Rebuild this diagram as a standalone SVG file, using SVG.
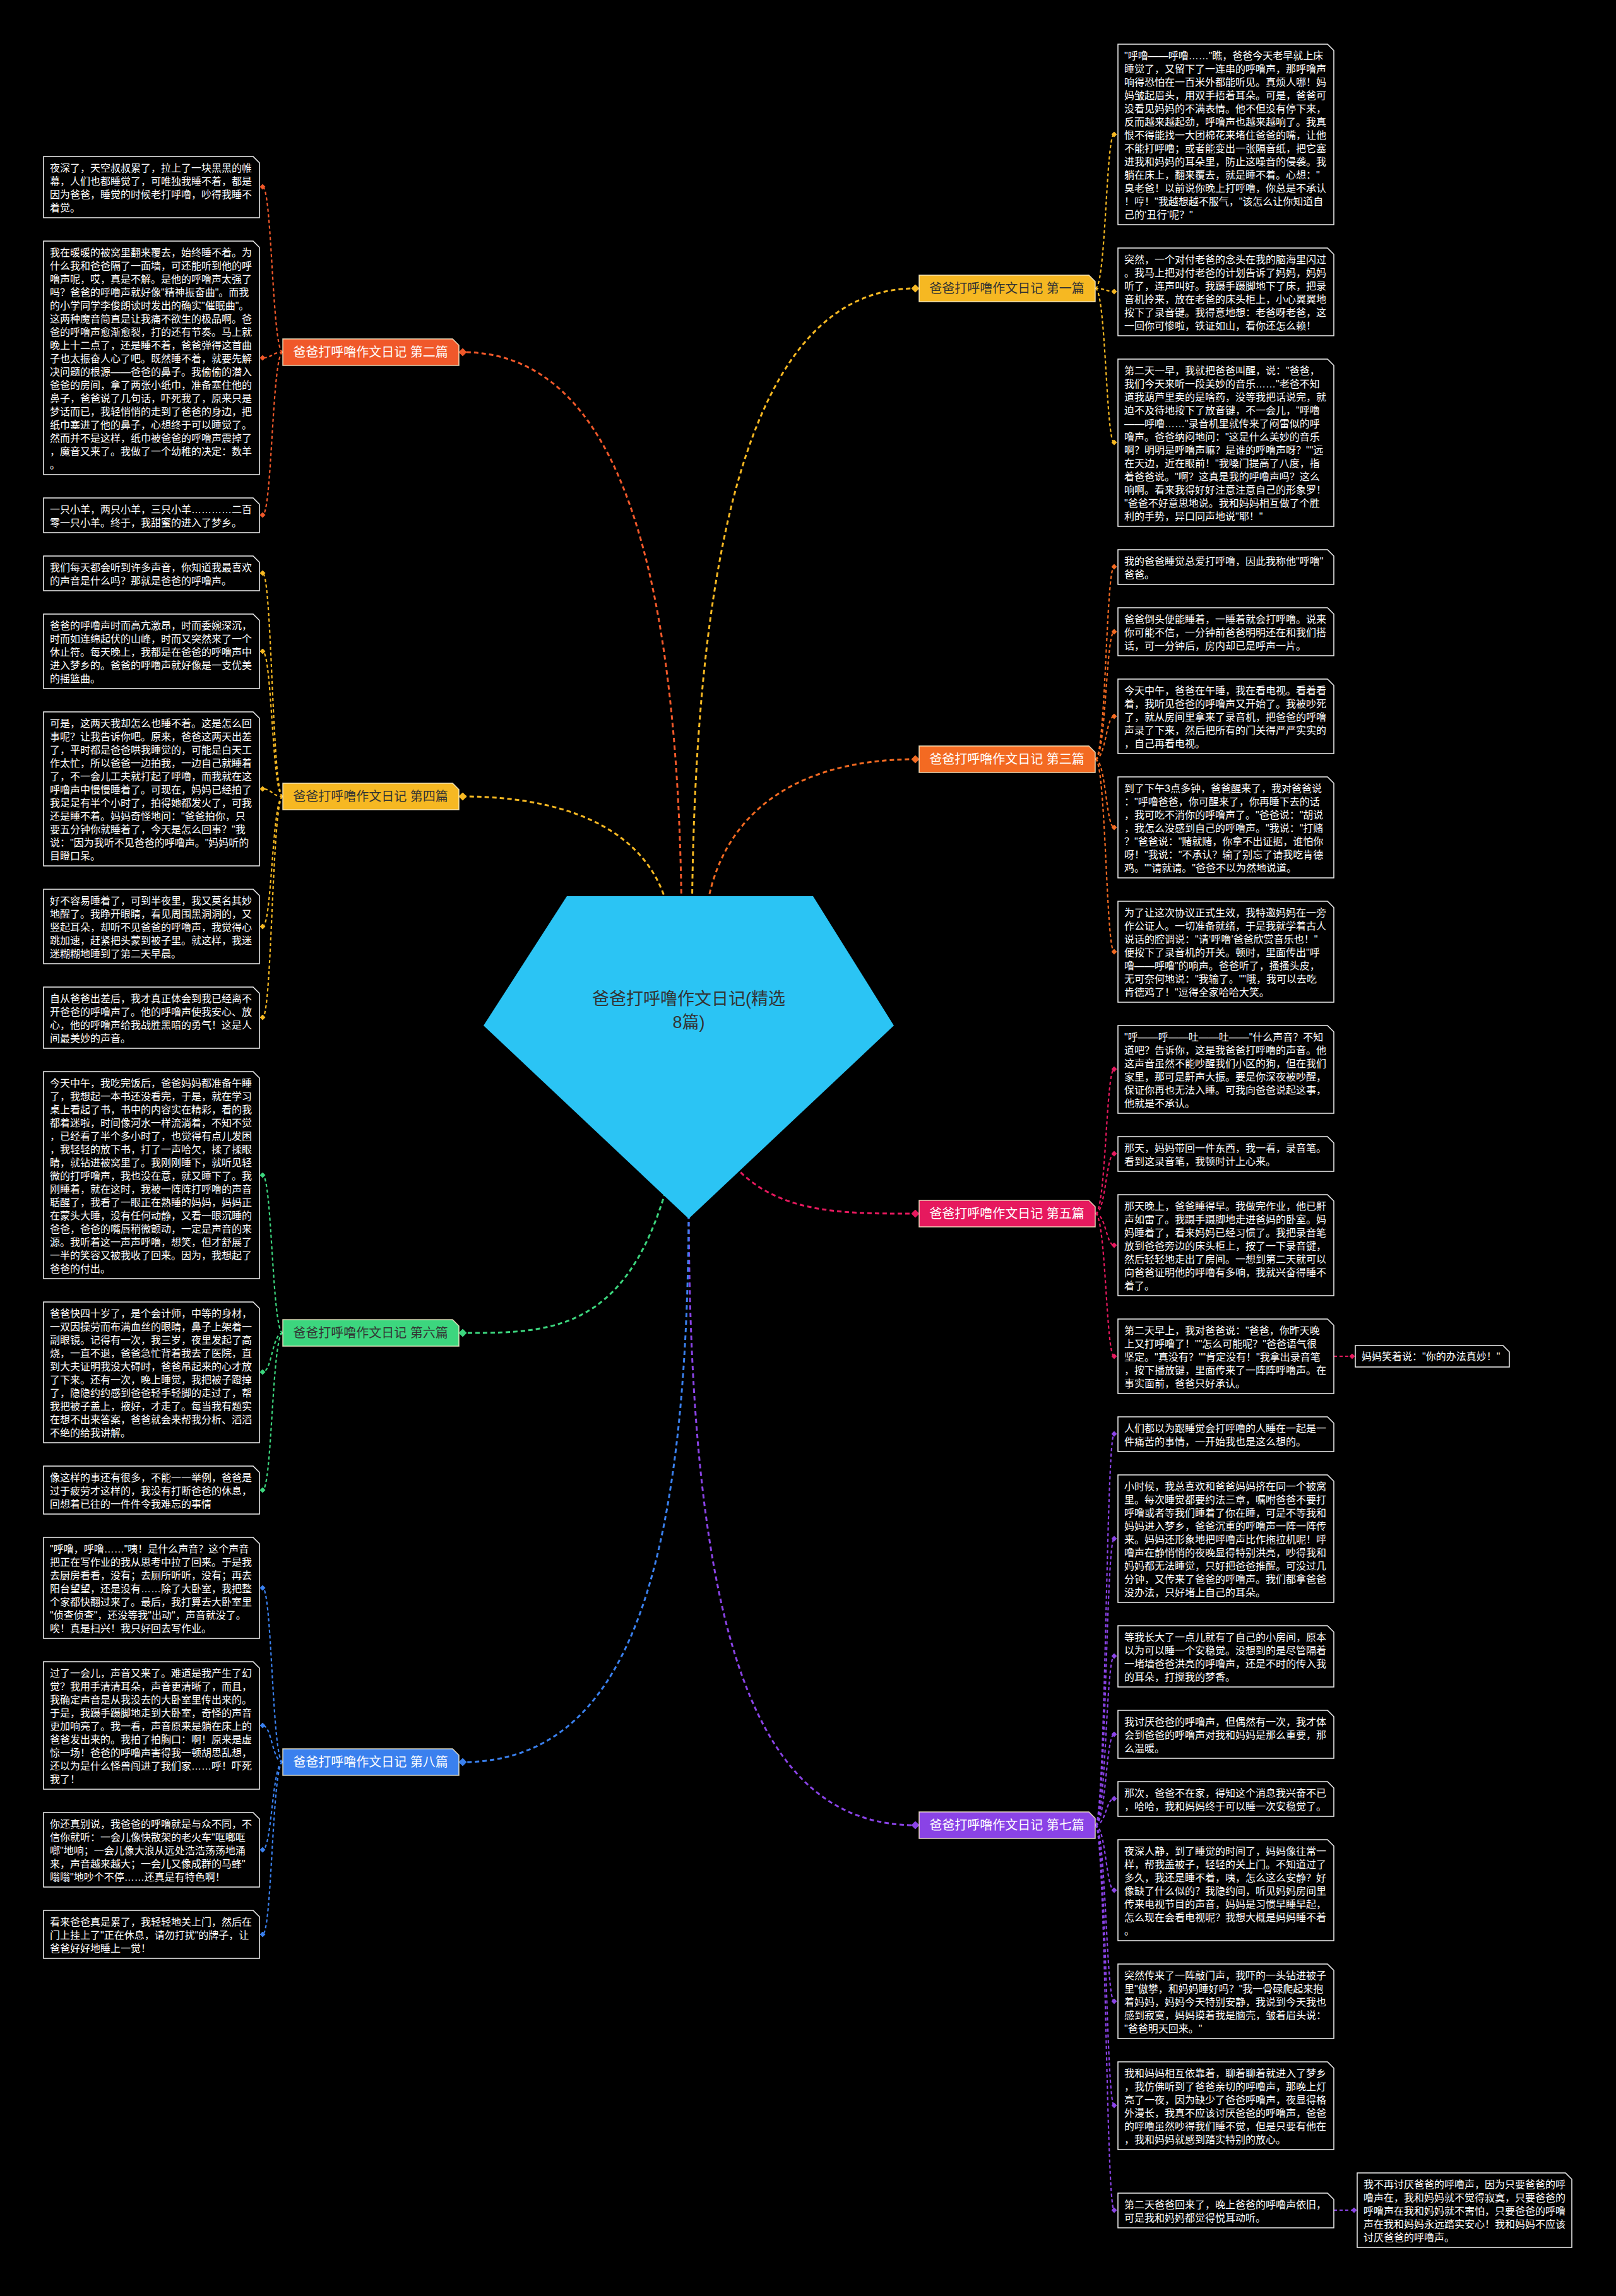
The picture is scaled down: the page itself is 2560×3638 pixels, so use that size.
<svg xmlns="http://www.w3.org/2000/svg" width="2560" height="3638" viewBox="0 0 2560 3638">
<defs>
<style>
.box{fill:#000;stroke:#f2f2f2;stroke-width:1.5}
.t{font-family:"Liberation Sans","Noto Sans CJK SC",sans-serif;font-size:16px;fill:#fff}
.lbl{stroke:#fff3cf;stroke-width:1.5;stroke-opacity:0.85}
.lt{font-family:"Liberation Sans","Noto Sans CJK SC",sans-serif;font-size:20px;text-anchor:middle}
.main{fill:none;stroke-width:3;stroke-dasharray:7 5}
.sub{fill:none;stroke-width:2.2;stroke-dasharray:5 4}
</style>
<marker id="dy" viewBox="0 0 10 10" refX="5" refY="5" markerWidth="13" markerHeight="13" markerUnits="userSpaceOnUse" orient="auto"><path d="M0,5L5,0L10,5L5,10Z" fill="#F6B822"/></marker>
<marker id="sy" viewBox="0 0 10 10" refX="5" refY="5" markerWidth="9" markerHeight="9" markerUnits="userSpaceOnUse" orient="auto"><path d="M0,5L5,0L10,5L5,10Z" fill="#F6B822"/></marker>
<marker id="dr" viewBox="0 0 10 10" refX="5" refY="5" markerWidth="13" markerHeight="13" markerUnits="userSpaceOnUse" orient="auto"><path d="M0,5L5,0L10,5L5,10Z" fill="#F0582A"/></marker>
<marker id="sr" viewBox="0 0 10 10" refX="5" refY="5" markerWidth="9" markerHeight="9" markerUnits="userSpaceOnUse" orient="auto"><path d="M0,5L5,0L10,5L5,10Z" fill="#F0582A"/></marker>
<marker id="do" viewBox="0 0 10 10" refX="5" refY="5" markerWidth="13" markerHeight="13" markerUnits="userSpaceOnUse" orient="auto"><path d="M0,5L5,0L10,5L5,10Z" fill="#F36A22"/></marker>
<marker id="so" viewBox="0 0 10 10" refX="5" refY="5" markerWidth="9" markerHeight="9" markerUnits="userSpaceOnUse" orient="auto"><path d="M0,5L5,0L10,5L5,10Z" fill="#F36A22"/></marker>
<marker id="dp" viewBox="0 0 10 10" refX="5" refY="5" markerWidth="13" markerHeight="13" markerUnits="userSpaceOnUse" orient="auto"><path d="M0,5L5,0L10,5L5,10Z" fill="#E6195E"/></marker>
<marker id="sp" viewBox="0 0 10 10" refX="5" refY="5" markerWidth="9" markerHeight="9" markerUnits="userSpaceOnUse" orient="auto"><path d="M0,5L5,0L10,5L5,10Z" fill="#E6195E"/></marker>
<marker id="dg" viewBox="0 0 10 10" refX="5" refY="5" markerWidth="13" markerHeight="13" markerUnits="userSpaceOnUse" orient="auto"><path d="M0,5L5,0L10,5L5,10Z" fill="#3CD67E"/></marker>
<marker id="sg" viewBox="0 0 10 10" refX="5" refY="5" markerWidth="9" markerHeight="9" markerUnits="userSpaceOnUse" orient="auto"><path d="M0,5L5,0L10,5L5,10Z" fill="#3CD67E"/></marker>
<marker id="dv" viewBox="0 0 10 10" refX="5" refY="5" markerWidth="13" markerHeight="13" markerUnits="userSpaceOnUse" orient="auto"><path d="M0,5L5,0L10,5L5,10Z" fill="#8A43E6"/></marker>
<marker id="sv" viewBox="0 0 10 10" refX="5" refY="5" markerWidth="9" markerHeight="9" markerUnits="userSpaceOnUse" orient="auto"><path d="M0,5L5,0L10,5L5,10Z" fill="#8A43E6"/></marker>
<marker id="db" viewBox="0 0 10 10" refX="5" refY="5" markerWidth="13" markerHeight="13" markerUnits="userSpaceOnUse" orient="auto"><path d="M0,5L5,0L10,5L5,10Z" fill="#3A80EE"/></marker>
<marker id="sb" viewBox="0 0 10 10" refX="5" refY="5" markerWidth="9" markerHeight="9" markerUnits="userSpaceOnUse" orient="auto"><path d="M0,5L5,0L10,5L5,10Z" fill="#3A80EE"/></marker>
</defs>
<rect width="2560" height="3638" fill="#000"/>

<g id="connectors">
<path class="main" stroke="#F6B822" marker-end="url(#dy)" d="M1096,1500 C1096,900 1180,457 1450,457"/>
<path class="main" stroke="#F0582A" marker-end="url(#dr)" d="M1080,1500 C1080,900 980,558 733,558"/>
<path class="main" stroke="#F36A22" marker-end="url(#do)" d="M1115,1500 C1115,1300 1250,1203 1450,1203"/>
<path class="main" stroke="#F6B822" marker-end="url(#dy)" d="M1065,1500 C1065,1330 920,1262 733,1262"/>
<path class="main" stroke="#E6195E" marker-end="url(#dp)" d="M1091,1700 C1150,1923 1280,1923 1450,1923"/>
<path class="main" stroke="#3CD67E" marker-end="url(#dg)" d="M1091,1700 C1040,2112 900,2112 733,2112"/>
<path class="main" stroke="#8A43E6" marker-end="url(#dv)" d="M1091,1900 C1091,2600 1200,2892 1450,2892"/>
<path class="main" stroke="#3A80EE" marker-end="url(#db)" d="M1091,1900 C1091,2500 990,2792 733,2792"/>

<g stroke="#F6B822" marker-end="url(#sy)" class="sub">
<path d="M1735,457 C1752,457 1752,213 1765,213"/>
<path d="M1735,457 C1752,457 1752,462 1765,462"/>
<path d="M1735,457 C1752,457 1752,701 1765,701"/>
</g>
<g stroke="#F0582A" marker-end="url(#sr)" class="sub">
<path d="M448,558 C431,558 431,296 416,296"/>
<path d="M448,558 C431,558 431,567 416,567"/>
<path d="M448,558 C431,558 431,816 416,816"/>
</g>
<g stroke="#F36A22" marker-end="url(#so)" class="sub">
<path d="M1735,1203 C1752,1203 1752,898 1765,898"/>
<path d="M1735,1203 C1752,1203 1752,1001 1765,1001"/>
<path d="M1735,1203 C1752,1203 1752,1135 1765,1135"/>
<path d="M1735,1203 C1752,1203 1752,1311 1765,1311"/>
<path d="M1735,1203 C1752,1203 1752,1508 1765,1508"/>
</g>
<g stroke="#F6B822" marker-end="url(#sy)" class="sub">
<path d="M448,1262 C431,1262 431,908 416,908"/>
<path d="M448,1262 C431,1262 431,1032 416,1032"/>
<path d="M448,1262 C431,1262 431,1250 416,1250"/>
<path d="M448,1262 C431,1262 431,1468 416,1468"/>
<path d="M448,1262 C431,1262 431,1612 416,1612"/>
</g>
<g stroke="#E6195E" marker-end="url(#sp)" class="sub">
<path d="M1735,1923 C1752,1923 1752,1694 1765,1694"/>
<path d="M1735,1923 C1752,1923 1752,1828 1765,1828"/>
<path d="M1735,1923 C1752,1923 1752,1973 1765,1973"/>
<path d="M1735,1923 C1752,1923 1752,2149 1765,2149"/>
<path d="M2113,2149 L2142,2149"/>
</g>
<g stroke="#3CD67E" marker-end="url(#sg)" class="sub">
<path d="M448,2112 C431,2112 431,1862 416,1862"/>
<path d="M448,2112 C431,2112 431,2174 416,2174"/>
<path d="M448,2112 C431,2112 431,2361 416,2361"/>
</g>
<g stroke="#8A43E6" marker-end="url(#sv)" class="sub">
<path d="M1735,2892 C1752,2892 1752,2272 1765,2272"/>
<path d="M1735,2892 C1752,2892 1752,2438 1765,2438"/>
<path d="M1735,2892 C1752,2892 1752,2624 1765,2624"/>
<path d="M1735,2892 C1752,2892 1752,2748 1765,2748"/>
<path d="M1735,2892 C1752,2892 1752,2850 1765,2850"/>
<path d="M1735,2892 C1752,2892 1752,2995 1765,2995"/>
<path d="M1735,2892 C1752,2892 1752,3171 1765,3171"/>
<path d="M1735,2892 C1752,2892 1752,3336 1765,3336"/>
<path d="M1735,2892 C1752,2892 1752,3502 1765,3502"/>
<path d="M2113,3502 L2145,3502"/>
</g>
<g stroke="#3A80EE" marker-end="url(#sb)" class="sub">
<path d="M448,2792 C431,2792 431,2516 416,2516"/>
<path d="M448,2792 C431,2792 431,2734 416,2734"/>
<path d="M448,2792 C431,2792 431,2931 416,2931"/>
<path d="M448,2792 C431,2792 431,3065 416,3065"/>
</g>
</g>

<g id="root">
<path d="M898,1420 L1288,1420 L1416,1625 L1091,1931 L766,1625 Z" fill="#2BC4F4"/>
<text x="1091" y="1592" font-family="Liberation Sans, Noto Sans CJK SC, sans-serif" font-size="27" fill="#333" text-anchor="middle">爸爸打呼噜作文日记(精选</text>
<text x="1091" y="1629" font-family="Liberation Sans, Noto Sans CJK SC, sans-serif" font-size="27" fill="#333" text-anchor="middle">8篇)</text>
</g>

<g id="label1"><path class="lbl" fill="#F6B822" d="M1456,436 H1725 L1735,446 V478 H1456 Z"/><text class="lt" x="1595" y="464" fill="#333">爸爸打呼噜作文日记 第一篇</text></g>
<g id="label2"><path class="lbl" fill="#F0582A" d="M448,537 H717 L727,547 V579 H448 Z"/><text class="lt" x="587" y="565" fill="#fff">爸爸打呼噜作文日记 第二篇</text></g>
<g id="label3"><path class="lbl" fill="#F36A22" d="M1456,1182 H1725 L1735,1192 V1224 H1456 Z"/><text class="lt" x="1595" y="1210" fill="#fff">爸爸打呼噜作文日记 第三篇</text></g>
<g id="label4"><path class="lbl" fill="#F6B822" d="M448,1241 H717 L727,1251 V1283 H448 Z"/><text class="lt" x="587" y="1269" fill="#333">爸爸打呼噜作文日记 第四篇</text></g>
<g id="label5"><path class="lbl" fill="#E6195E" d="M1456,1902 H1725 L1735,1912 V1944 H1456 Z"/><text class="lt" x="1595" y="1930" fill="#fff">爸爸打呼噜作文日记 第五篇</text></g>
<g id="label6"><path class="lbl" fill="#3CD67E" d="M448,2091 H717 L727,2101 V2133 H448 Z"/><text class="lt" x="587" y="2119" fill="#333">爸爸打呼噜作文日记 第六篇</text></g>
<g id="label7"><path class="lbl" fill="#8A43E6" d="M1456,2871 H1725 L1735,2881 V2913 H1456 Z"/><text class="lt" x="1595" y="2899" fill="#fff">爸爸打呼噜作文日记 第七篇</text></g>
<g id="label8"><path class="lbl" fill="#3A80EE" d="M448,2771 H717 L727,2781 V2813 H448 Z"/><text class="lt" x="587" y="2799" fill="#fff">爸爸打呼噜作文日记 第八篇</text></g>

<g id="L1"><path class="box" d="M69,248 H401 L411,258 V345 H69 Z"/><text class="t" x="79" y="272"><tspan x="79">夜深了，天空叔叔累了，拉上了一块黑黑的帷</tspan><tspan x="79" dy="21">幕，人们也都睡觉了，可唯独我睡不着，都是</tspan><tspan x="79" dy="21">因为爸爸，睡觉的时候老打呼噜，吵得我睡不</tspan><tspan x="79" dy="21">着觉。</tspan></text></g>
<g id="L2"><path class="box" d="M69,382 H401 L411,392 V752 H69 Z"/><text class="t" x="79" y="406"><tspan x="79">我在暖暖的被窝里翻来覆去，始终睡不着。为</tspan><tspan x="79" dy="21">什么我和爸爸隔了一面墙，可还能听到他的呼</tspan><tspan x="79" dy="21">噜声呢，哎，真是不解。是他的呼噜声太强了</tspan><tspan x="79" dy="21">吗？爸爸的呼噜声就好像"精神振奋曲"。而我</tspan><tspan x="79" dy="21">的小学同学李俊朗读时发出的确实"催眠曲"。</tspan><tspan x="79" dy="21">这两种魔音简直是让我痛不欲生的极品啊。爸</tspan><tspan x="79" dy="21">爸的呼噜声愈渐愈裂，打的还有节奏。马上就</tspan><tspan x="79" dy="21">晚上十二点了，还是睡不着，爸爸弹得这首曲</tspan><tspan x="79" dy="21">子也太振奋人心了吧。既然睡不着，就要先解</tspan><tspan x="79" dy="21">决问题的根源——爸爸的鼻子。我偷偷的潜入</tspan><tspan x="79" dy="21">爸爸的房间，拿了两张小纸巾，准备塞住他的</tspan><tspan x="79" dy="21">鼻子，爸爸说了几句话，吓死我了，原来只是</tspan><tspan x="79" dy="21">梦话而已，我轻悄悄的走到了爸爸的身边，把</tspan><tspan x="79" dy="21">纸巾塞进了他的鼻子，心想终于可以睡觉了。</tspan><tspan x="79" dy="21">然而并不是这样，纸巾被爸爸的呼噜声震掉了</tspan><tspan x="79" dy="21">，魔音又来了。我做了一个幼稚的决定：数羊</tspan><tspan x="79" dy="21">。</tspan></text></g>
<g id="L3"><path class="box" d="M69,789 H401 L411,799 V844 H69 Z"/><text class="t" x="79" y="813"><tspan x="79">一只小羊，两只小羊，三只小羊…………二百</tspan><tspan x="79" dy="21">零一只小羊。终于，我甜蜜的进入了梦乡。</tspan></text></g>
<g id="L4"><path class="box" d="M69,881 H401 L411,891 V936 H69 Z"/><text class="t" x="79" y="905"><tspan x="79">我们每天都会听到许多声音，你知道我最喜欢</tspan><tspan x="79" dy="21">的声音是什么吗？那就是爸爸的呼噜声。</tspan></text></g>
<g id="L5"><path class="box" d="M69,973 H401 L411,983 V1091 H69 Z"/><text class="t" x="79" y="997"><tspan x="79">爸爸的呼噜声时而高亢激昂，时而委婉深沉，</tspan><tspan x="79" dy="21">时而如连绵起伏的山峰，时而又突然来了一个</tspan><tspan x="79" dy="21">休止符。每天晚上，我都是在爸爸的呼噜声中</tspan><tspan x="79" dy="21">进入梦乡的。爸爸的呼噜声就好像是一支优美</tspan><tspan x="79" dy="21">的摇篮曲。</tspan></text></g>
<g id="L6"><path class="box" d="M69,1128 H401 L411,1138 V1372 H69 Z"/><text class="t" x="79" y="1152"><tspan x="79">可是，这两天我却怎么也睡不着。这是怎么回</tspan><tspan x="79" dy="21">事呢？让我告诉你吧。原来，爸爸这两天出差</tspan><tspan x="79" dy="21">了，平时都是爸爸哄我睡觉的，可能是白天工</tspan><tspan x="79" dy="21">作太忙，所以爸爸一边拍我，一边自己就睡着</tspan><tspan x="79" dy="21">了，不一会儿工夫就打起了呼噜，而我就在这</tspan><tspan x="79" dy="21">呼噜声中慢慢睡着了。可现在，妈妈已经拍了</tspan><tspan x="79" dy="21">我足足有半个小时了，拍得她都发火了，可我</tspan><tspan x="79" dy="21">还是睡不着。妈妈奇怪地问："爸爸拍你，只</tspan><tspan x="79" dy="21">要五分钟你就睡着了，今天是怎么回事？"我</tspan><tspan x="79" dy="21">说："因为我听不见爸爸的呼噜声。"妈妈听的</tspan><tspan x="79" dy="21">目瞪口呆。</tspan></text></g>
<g id="L7"><path class="box" d="M69,1409 H401 L411,1419 V1527 H69 Z"/><text class="t" x="79" y="1433"><tspan x="79">好不容易睡着了，可到半夜里，我又莫名其妙</tspan><tspan x="79" dy="21">地醒了。我睁开眼睛，看见周围黑洞洞的，又</tspan><tspan x="79" dy="21">竖起耳朵，却听不见爸爸的呼噜声，我觉得心</tspan><tspan x="79" dy="21">跳加速，赶紧把头蒙到被子里。就这样，我迷</tspan><tspan x="79" dy="21">迷糊糊地睡到了第二天早晨。</tspan></text></g>
<g id="L8"><path class="box" d="M69,1564 H401 L411,1574 V1661 H69 Z"/><text class="t" x="79" y="1588"><tspan x="79">自从爸爸出差后，我才真正体会到我已经离不</tspan><tspan x="79" dy="21">开爸爸的呼噜声了。他的呼噜声使我安心、放</tspan><tspan x="79" dy="21">心，他的呼噜声给我战胜黑暗的勇气！这是人</tspan><tspan x="79" dy="21">间最美妙的声音。</tspan></text></g>
<g id="L9"><path class="box" d="M69,1698 H401 L411,1708 V2026 H69 Z"/><text class="t" x="79" y="1722"><tspan x="79">今天中午，我吃完饭后，爸爸妈妈都准备午睡</tspan><tspan x="79" dy="21">了，我想起一本书还没看完，于是，就在学习</tspan><tspan x="79" dy="21">桌上看起了书，书中的内容实在精彩，看的我</tspan><tspan x="79" dy="21">都着迷啦，时间像河水一样流淌着，不知不觉</tspan><tspan x="79" dy="21">，已经看了半个多小时了，也觉得有点儿发困</tspan><tspan x="79" dy="21">，我轻轻的放下书，打了一声哈欠，揉了揉眼</tspan><tspan x="79" dy="21">睛，就钻进被窝里了。我刚刚睡下，就听见轻</tspan><tspan x="79" dy="21">微的打呼噜声，我也没在意，就又睡下了。我</tspan><tspan x="79" dy="21">刚睡着，就在这时，我被一阵阵打呼噜的声音</tspan><tspan x="79" dy="21">聒醒了，我看了一眼正在熟睡的妈妈，妈妈正</tspan><tspan x="79" dy="21">在蒙头大睡，没有任何动静，又看一眼沉睡的</tspan><tspan x="79" dy="21">爸爸，爸爸的嘴唇稍微颤动，一定是声音的来</tspan><tspan x="79" dy="21">源。我听着这一声声呼噜，想笑，但才舒展了</tspan><tspan x="79" dy="21">一半的笑容又被我收了回来。因为，我想起了</tspan><tspan x="79" dy="21">爸爸的付出。</tspan></text></g>
<g id="L10"><path class="box" d="M69,2063 H401 L411,2073 V2286 H69 Z"/><text class="t" x="79" y="2087"><tspan x="79">爸爸快四十岁了，是个会计师，中等的身材，</tspan><tspan x="79" dy="21">一双因操劳而布满血丝的眼睛，鼻子上架着一</tspan><tspan x="79" dy="21">副眼镜。记得有一次，我三岁，夜里发起了高</tspan><tspan x="79" dy="21">烧，一直不退，爸爸急忙背着我去了医院，直</tspan><tspan x="79" dy="21">到大夫证明我没大碍时，爸爸吊起来的心才放</tspan><tspan x="79" dy="21">了下来。还有一次，晚上睡觉，我把被子蹬掉</tspan><tspan x="79" dy="21">了，隐隐约约感到爸爸轻手轻脚的走过了，帮</tspan><tspan x="79" dy="21">我把被子盖上，掖好，才走了。每当我有题实</tspan><tspan x="79" dy="21">在想不出来答案，爸爸就会来帮我分析、滔滔</tspan><tspan x="79" dy="21">不绝的给我讲解。</tspan></text></g>
<g id="L11"><path class="box" d="M69,2323 H401 L411,2333 V2399 H69 Z"/><text class="t" x="79" y="2347"><tspan x="79">像这样的事还有很多，不能一一举例，爸爸是</tspan><tspan x="79" dy="21">过于疲劳才这样的，我没有打断爸爸的休息，</tspan><tspan x="79" dy="21">回想着已往的一件件令我难忘的事情</tspan></text></g>
<g id="L12"><path class="box" d="M69,2436 H401 L411,2446 V2596 H69 Z"/><text class="t" x="79" y="2460"><tspan x="79">"呼噜，呼噜……"咦！是什么声音？这个声音</tspan><tspan x="79" dy="21">把正在写作业的我从思考中拉了回来。于是我</tspan><tspan x="79" dy="21">去厨房看看，没有；去厕所听听，没有；再去</tspan><tspan x="79" dy="21">阳台望望，还是没有……除了大卧室，我把整</tspan><tspan x="79" dy="21">个家都快翻过来了。最后，我打算去大卧室里</tspan><tspan x="79" dy="21">"侦查侦查"，还没等我"出动"，声音就没了。</tspan><tspan x="79" dy="21">唉！真是扫兴！我只好回去写作业。</tspan></text></g>
<g id="L13"><path class="box" d="M69,2633 H401 L411,2643 V2835 H69 Z"/><text class="t" x="79" y="2657"><tspan x="79">过了一会儿，声音又来了。难道是我产生了幻</tspan><tspan x="79" dy="21">觉？我用手清清耳朵，声音更清晰了，而且，</tspan><tspan x="79" dy="21">我确定声音是从我没去的大卧室里传出来的。</tspan><tspan x="79" dy="21">于是，我蹑手蹑脚地走到大卧室，奇怪的声音</tspan><tspan x="79" dy="21">更加响亮了。我一看，声音原来是躺在床上的</tspan><tspan x="79" dy="21">爸爸发出来的。我拍了拍胸口：啊！原来是虚</tspan><tspan x="79" dy="21">惊一场！爸爸的呼噜声害得我一顿胡思乱想，</tspan><tspan x="79" dy="21">还以为是什么怪兽闯进了我们家……呼！吓死</tspan><tspan x="79" dy="21">我了！</tspan></text></g>
<g id="L14"><path class="box" d="M69,2872 H401 L411,2882 V2990 H69 Z"/><text class="t" x="79" y="2896"><tspan x="79">你还真别说，我爸爸的呼噜就是与众不同，不</tspan><tspan x="79" dy="21">信你就听：一会儿像快散架的老火车"哐啷哐</tspan><tspan x="79" dy="21">啷"地响；一会儿像大浪从远处浩浩荡荡地涌</tspan><tspan x="79" dy="21">来，声音越来越大；一会儿又像成群的马蜂"</tspan><tspan x="79" dy="21">嗡嗡"地吵个不停……还真是有特色啊！</tspan></text></g>
<g id="L15"><path class="box" d="M69,3027 H401 L411,3037 V3103 H69 Z"/><text class="t" x="79" y="3051"><tspan x="79">看来爸爸真是累了，我轻轻地关上门，然后在</tspan><tspan x="79" dy="21">门上挂上了"正在休息，请勿打扰"的牌子，让</tspan><tspan x="79" dy="21">爸爸好好地睡上一觉！</tspan></text></g>

<g id="R1"><path class="box" d="M1771,70 H2103 L2113,80 V356 H1771 Z"/><text class="t" x="1781" y="94"><tspan x="1781">"呼噜——呼噜……"瞧，爸爸今天老早就上床</tspan><tspan x="1781" dy="21">睡觉了，又留下了一连串的呼噜声，那呼噜声</tspan><tspan x="1781" dy="21">响得恐怕在一百米外都能听见。真烦人哪！妈</tspan><tspan x="1781" dy="21">妈皱起眉头，用双手捂着耳朵。可是，爸爸可</tspan><tspan x="1781" dy="21">没看见妈妈的不满表情。他不但没有停下来，</tspan><tspan x="1781" dy="21">反而越来越起劲，呼噜声也越来越响了。我真</tspan><tspan x="1781" dy="21">恨不得能找一大团棉花来堵住爸爸的嘴，让他</tspan><tspan x="1781" dy="21">不能打呼噜；或者能变出一张隔音纸，把它塞</tspan><tspan x="1781" dy="21">进我和妈妈的耳朵里，防止这噪音的侵袭。我</tspan><tspan x="1781" dy="21">躺在床上，翻来覆去，就是睡不着。心想："</tspan><tspan x="1781" dy="21">臭老爸！以前说你晚上打呼噜，你总是不承认</tspan><tspan x="1781" dy="21">！哼！"我越想越不服气，"该怎么让你知道自</tspan><tspan x="1781" dy="21">己的‘丑行’呢？"</tspan></text></g>
<g id="R2"><path class="box" d="M1771,393 H2103 L2113,403 V532 H1771 Z"/><text class="t" x="1781" y="417"><tspan x="1781">突然，一个对付老爸的念头在我的脑海里闪过</tspan><tspan x="1781" dy="21">。我马上把对付老爸的计划告诉了妈妈，妈妈</tspan><tspan x="1781" dy="21">听了，连声叫好。我蹑手蹑脚地下了床，把录</tspan><tspan x="1781" dy="21">音机拎来，放在老爸的床头柜上，小心翼翼地</tspan><tspan x="1781" dy="21">按下了录音键。我得意地想：老爸呀老爸，这</tspan><tspan x="1781" dy="21">一回你可惨啦，铁证如山，看你还怎么赖！</tspan></text></g>
<g id="R3"><path class="box" d="M1771,569 H2103 L2113,579 V834 H1771 Z"/><text class="t" x="1781" y="593"><tspan x="1781">第二天一早，我就把爸爸叫醒，说："爸爸，</tspan><tspan x="1781" dy="21">我们今天来听一段美妙的音乐……"老爸不知</tspan><tspan x="1781" dy="21">道我葫芦里卖的是啥药，没等我把话说完，就</tspan><tspan x="1781" dy="21">迫不及待地按下了放音键，不一会儿，"呼噜</tspan><tspan x="1781" dy="21">——呼噜……"录音机里就传来了闷雷似的呼</tspan><tspan x="1781" dy="21">噜声。爸爸纳闷地问："这是什么美妙的音乐</tspan><tspan x="1781" dy="21">啊？明明是呼噜声嘛？是谁的呼噜声呀？""远</tspan><tspan x="1781" dy="21">在天边，近在眼前！"我嗓门提高了八度，指</tspan><tspan x="1781" dy="21">着爸爸说。"啊？这真是我的呼噜声吗？这么</tspan><tspan x="1781" dy="21">响啊。看来我得好好注意注意自己的形象罗！</tspan><tspan x="1781" dy="21">"爸爸不好意思地说。我和妈妈相互做了个胜</tspan><tspan x="1781" dy="21">利的手势，异口同声地说"耶！"</tspan></text></g>
<g id="R4"><path class="box" d="M1771,871 H2103 L2113,881 V926 H1771 Z"/><text class="t" x="1781" y="895"><tspan x="1781">我的爸爸睡觉总爱打呼噜，因此我称他"呼噜"</tspan><tspan x="1781" dy="21">爸爸。</tspan></text></g>
<g id="R5"><path class="box" d="M1771,963 H2103 L2113,973 V1039 H1771 Z"/><text class="t" x="1781" y="987"><tspan x="1781">爸爸倒头便能睡着，一睡着就会打呼噜。说来</tspan><tspan x="1781" dy="21">你可能不信，一分钟前爸爸明明还在和我们搭</tspan><tspan x="1781" dy="21">话，可一分钟后，房内却已是呼声一片。</tspan></text></g>
<g id="R6"><path class="box" d="M1771,1076 H2103 L2113,1086 V1194 H1771 Z"/><text class="t" x="1781" y="1100"><tspan x="1781">今天中午，爸爸在午睡，我在看电视。看着看</tspan><tspan x="1781" dy="21">着，我听见爸爸的呼噜声又开始了。我被吵死</tspan><tspan x="1781" dy="21">了，就从房间里拿来了录音机，把爸爸的呼噜</tspan><tspan x="1781" dy="21">声录了下来，然后把所有的门关得严严实实的</tspan><tspan x="1781" dy="21">，自己再看电视。</tspan></text></g>
<g id="R7"><path class="box" d="M1771,1231 H2103 L2113,1241 V1391 H1771 Z"/><text class="t" x="1781" y="1255"><tspan x="1781">到了下午3点多钟，爸爸醒来了，我对爸爸说</tspan><tspan x="1781" dy="21">："呼噜爸爸，你可醒来了，你再睡下去的话</tspan><tspan x="1781" dy="21">，我可吃不消你的呼噜声了。"爸爸说："胡说</tspan><tspan x="1781" dy="21">，我怎么没感到自己的呼噜声。"我说："打赌</tspan><tspan x="1781" dy="21">？"爸爸说："赌就赌，你拿不出证据，谁怕你</tspan><tspan x="1781" dy="21">呀！"我说："不承认？输了别忘了请我吃肯德</tspan><tspan x="1781" dy="21">鸡。""请就请。"爸爸不以为然地说道。</tspan></text></g>
<g id="R8"><path class="box" d="M1771,1428 H2103 L2113,1438 V1588 H1771 Z"/><text class="t" x="1781" y="1452"><tspan x="1781">为了让这次协议正式生效，我特邀妈妈在一旁</tspan><tspan x="1781" dy="21">作公证人。一切准备就绪，于是我就学着古人</tspan><tspan x="1781" dy="21">说话的腔调说："请‘呼噜’爸爸欣赏音乐也！"</tspan><tspan x="1781" dy="21">便按下了录音机的开关。顿时，里面传出"呼</tspan><tspan x="1781" dy="21">噜——呼噜"的响声。爸爸听了，搔搔头皮，</tspan><tspan x="1781" dy="21">无可奈何地说："我输了。""哦，我可以去吃</tspan><tspan x="1781" dy="21">肯德鸡了！"逗得全家哈哈大笑。</tspan></text></g>
<g id="R9"><path class="box" d="M1771,1625 H2103 L2113,1635 V1764 H1771 Z"/><text class="t" x="1781" y="1649"><tspan x="1781">"呼——呼——吐——吐——"什么声音？不知</tspan><tspan x="1781" dy="21">道吧？告诉你，这是我爸爸打呼噜的声音。他</tspan><tspan x="1781" dy="21">这声音虽然不能吵醒我们小区的狗，但在我们</tspan><tspan x="1781" dy="21">家里，那可是鼾声大振。要是你深夜被吵醒，</tspan><tspan x="1781" dy="21">保证你再也无法入睡。可我向爸爸说起这事，</tspan><tspan x="1781" dy="21">他就是不承认。</tspan></text></g>
<g id="R10"><path class="box" d="M1771,1801 H2103 L2113,1811 V1856 H1771 Z"/><text class="t" x="1781" y="1825"><tspan x="1781">那天，妈妈带回一件东西，我一看，录音笔。</tspan><tspan x="1781" dy="21">看到这录音笔，我顿时计上心来。</tspan></text></g>
<g id="R11"><path class="box" d="M1771,1893 H2103 L2113,1903 V2053 H1771 Z"/><text class="t" x="1781" y="1917"><tspan x="1781">那天晚上，爸爸睡得早。我做完作业，他已鼾</tspan><tspan x="1781" dy="21">声如雷了。我蹑手蹑脚地走进爸妈的卧室。妈</tspan><tspan x="1781" dy="21">妈睡着了，看来妈妈已经习惯了。我把录音笔</tspan><tspan x="1781" dy="21">放到爸爸旁边的床头柜上，按了一下录音键，</tspan><tspan x="1781" dy="21">然后轻轻地走出了房间。一想到第二天就可以</tspan><tspan x="1781" dy="21">向爸爸证明他的呼噜有多响，我就兴奋得睡不</tspan><tspan x="1781" dy="21">着了。</tspan></text></g>
<g id="R12"><path class="box" d="M1771,2090 H2103 L2113,2100 V2208 H1771 Z"/><text class="t" x="1781" y="2114"><tspan x="1781">第二天早上，我对爸爸说："爸爸，你昨天晚</tspan><tspan x="1781" dy="21">上又打呼噜了！""怎么可能呢？"爸爸语气很</tspan><tspan x="1781" dy="21">坚定。"真没有？""肯定没有！"我拿出录音笔</tspan><tspan x="1781" dy="21">，按下播放键，里面传来了一阵阵呼噜声。在</tspan><tspan x="1781" dy="21">事实面前，爸爸只好承认。</tspan></text></g>
<g id="S12"><path class="box" d="M2147,2132 H2381 L2391,2142 V2166 H2147 Z"/><text class="t" x="2157" y="2155">妈妈笑着说："你的办法真妙！"</text></g>
<g id="R13"><path class="box" d="M1771,2245 H2103 L2113,2255 V2300 H1771 Z"/><text class="t" x="1781" y="2269"><tspan x="1781">人们都以为跟睡觉会打呼噜的人睡在一起是一</tspan><tspan x="1781" dy="21">件痛苦的事情，一开始我也是这么想的。</tspan></text></g>
<g id="R14"><path class="box" d="M1771,2337 H2103 L2113,2347 V2539 H1771 Z"/><text class="t" x="1781" y="2361"><tspan x="1781">小时候，我总喜欢和爸爸妈妈挤在同一个被窝</tspan><tspan x="1781" dy="21">里。每次睡觉都要约法三章，嘱咐爸爸不要打</tspan><tspan x="1781" dy="21">呼噜或者等我们睡着了你在睡，可是不等我和</tspan><tspan x="1781" dy="21">妈妈进入梦乡，爸爸沉重的呼噜声一阵一阵传</tspan><tspan x="1781" dy="21">来。妈妈还形象地把呼噜声比作拖拉机呢！呼</tspan><tspan x="1781" dy="21">噜声在静悄悄的夜晚显得特别洪亮，吵得我和</tspan><tspan x="1781" dy="21">妈妈都无法睡觉，只好把爸爸推醒。可没过几</tspan><tspan x="1781" dy="21">分钟，又传来了爸爸的呼噜声。我们都拿爸爸</tspan><tspan x="1781" dy="21">没办法，只好堵上自己的耳朵。</tspan></text></g>
<g id="R15"><path class="box" d="M1771,2576 H2103 L2113,2586 V2673 H1771 Z"/><text class="t" x="1781" y="2600"><tspan x="1781">等我长大了一点儿就有了自己的小房间，原本</tspan><tspan x="1781" dy="21">以为可以睡一个安稳觉。没想到的是尽管隔着</tspan><tspan x="1781" dy="21">一堵墙爸爸洪亮的呼噜声，还是不时的传入我</tspan><tspan x="1781" dy="21">的耳朵，打搅我的梦香。</tspan></text></g>
<g id="R16"><path class="box" d="M1771,2710 H2103 L2113,2720 V2786 H1771 Z"/><text class="t" x="1781" y="2734"><tspan x="1781">我讨厌爸爸的呼噜声，但偶然有一次，我才体</tspan><tspan x="1781" dy="21">会到爸爸的呼噜声对我和妈妈是那么重要，那</tspan><tspan x="1781" dy="21">么温暖。</tspan></text></g>
<g id="R17"><path class="box" d="M1771,2823 H2103 L2113,2833 V2878 H1771 Z"/><text class="t" x="1781" y="2847"><tspan x="1781">那次，爸爸不在家，得知这个消息我兴奋不已</tspan><tspan x="1781" dy="21">，哈哈，我和妈妈终于可以睡一次安稳觉了。</tspan></text></g>
<g id="R18"><path class="box" d="M1771,2915 H2103 L2113,2925 V3075 H1771 Z"/><text class="t" x="1781" y="2939"><tspan x="1781">夜深人静，到了睡觉的时间了，妈妈像往常一</tspan><tspan x="1781" dy="21">样，帮我盖被子，轻轻的关上门。不知道过了</tspan><tspan x="1781" dy="21">多久，我还是睡不着，咦，怎么这么安静？好</tspan><tspan x="1781" dy="21">像缺了什么似的？我隐约间，听见妈妈房间里</tspan><tspan x="1781" dy="21">传来电视节目的声音，妈妈是习惯早睡早起，</tspan><tspan x="1781" dy="21">怎么现在会看电视呢？我想大概是妈妈睡不着</tspan><tspan x="1781" dy="21">。</tspan></text></g>
<g id="R19"><path class="box" d="M1771,3112 H2103 L2113,3122 V3230 H1771 Z"/><text class="t" x="1781" y="3136"><tspan x="1781">突然传来了一阵敲门声，我吓的一头钻进被子</tspan><tspan x="1781" dy="21">里"傲攀，和妈妈睡好吗？"我一骨碌爬起来抱</tspan><tspan x="1781" dy="21">着妈妈，妈妈今天特别安静，我说到今天我也</tspan><tspan x="1781" dy="21">感到寂寞，妈妈摸着我是脑壳，皱着眉头说：</tspan><tspan x="1781" dy="21">"爸爸明天回来。"</tspan></text></g>
<g id="R20"><path class="box" d="M1771,3267 H2103 L2113,3277 V3406 H1771 Z"/><text class="t" x="1781" y="3291"><tspan x="1781">我和妈妈相互依靠着，聊着聊着就进入了梦乡</tspan><tspan x="1781" dy="21">，我仿佛听到了爸爸亲切的呼噜声，那晚上灯</tspan><tspan x="1781" dy="21">亮了一夜，因为缺少了爸爸呼噜声，夜显得格</tspan><tspan x="1781" dy="21">外漫长，我真不应该讨厌爸爸的呼噜声，爸爸</tspan><tspan x="1781" dy="21">的呼噜虽然吵得我们睡不觉，但是只要有他在</tspan><tspan x="1781" dy="21">，我和妈妈就感到踏实特别的放心。</tspan></text></g>
<g id="R21"><path class="box" d="M1771,3475 H2103 L2113,3485 V3530 H1771 Z"/><text class="t" x="1781" y="3499"><tspan x="1781">第二天爸爸回来了，晚上爸爸的呼噜声依旧，</tspan><tspan x="1781" dy="21">可是我和妈妈都觉得悦耳动听。</tspan></text></g>
<g id="S21"><path class="box" d="M2150,3443 H2480 L2490,3453 V3561 H2150 Z"/><text class="t" x="2160" y="3467"><tspan x="2160">我不再讨厌爸爸的呼噜声，因为只要爸爸的呼</tspan><tspan x="2160" dy="21">噜声在，我和妈妈就不觉得寂寞，只要爸爸的</tspan><tspan x="2160" dy="21">呼噜声在我和妈妈就不害怕，只要爸爸的呼噜</tspan><tspan x="2160" dy="21">声在我和妈妈永远踏实安心！我和妈妈不应该</tspan><tspan x="2160" dy="21">讨厌爸爸的呼噜声。</tspan></text></g>
</svg>
